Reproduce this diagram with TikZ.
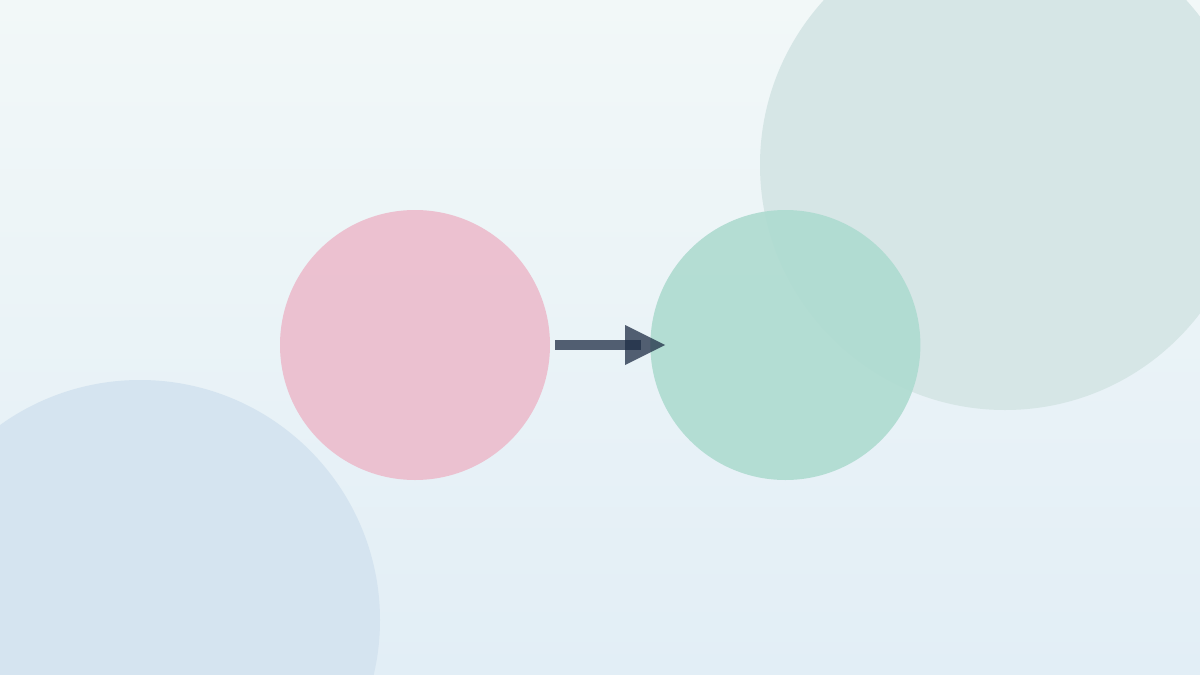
\documentclass[tikz,border=0pt]{standalone}
\usetikzlibrary{positioning}
\definecolor{bgtop}{HTML}{F2F8F8}
\definecolor{bgbottom}{HTML}{E2EEF6}
\definecolor{blobteal}{HTML}{D6E6E6}
\definecolor{blobblue}{HTML}{D5E4F0}
\definecolor{pinkfill}{HTML}{ECBCCC}
\definecolor{greenfill}{HTML}{AEDBD0}
\definecolor{arrowink}{HTML}{1E2D45}
\tikzstyle{ball}=[circle, inner sep=0pt, minimum size=270pt, fill opacity=0.9]
\tikzstyle{shaft}=[draw=arrowink, line width=10pt, draw opacity=0.75]
\tikzstyle{head}=[fill=arrowink, fill opacity=0.75]

\begin{document}
\begin{tikzpicture}[x=1pt, y=-1pt]
    \shade [top color=bgtop, bottom color=bgbottom] (0,0) rectangle (1200,675);
    \useasboundingbox (0,0) rectangle (1200,675);
    \fill [blobteal] (1005,165) circle (245);
    \fill [blobblue] (140,620) circle (240);
    \node (p) [ball, fill=pinkfill] at (415,345) {};
    \node (g) [ball, fill=greenfill, right=100pt of p] {};
    \coordinate (s) at ([xshift=5pt]p.east);
    \coordinate (e) at ([xshift=-9pt]g.west);
    \coordinate (t) at ([xshift=15pt]g.west);
    \draw [shaft] (s) -- (e);
    \fill [head] ([xshift=-40pt, yshift=-20pt]t) -- (t) -- ([xshift=-40pt, yshift=20pt]t) -- cycle;
\end{tikzpicture}
\end{document}
